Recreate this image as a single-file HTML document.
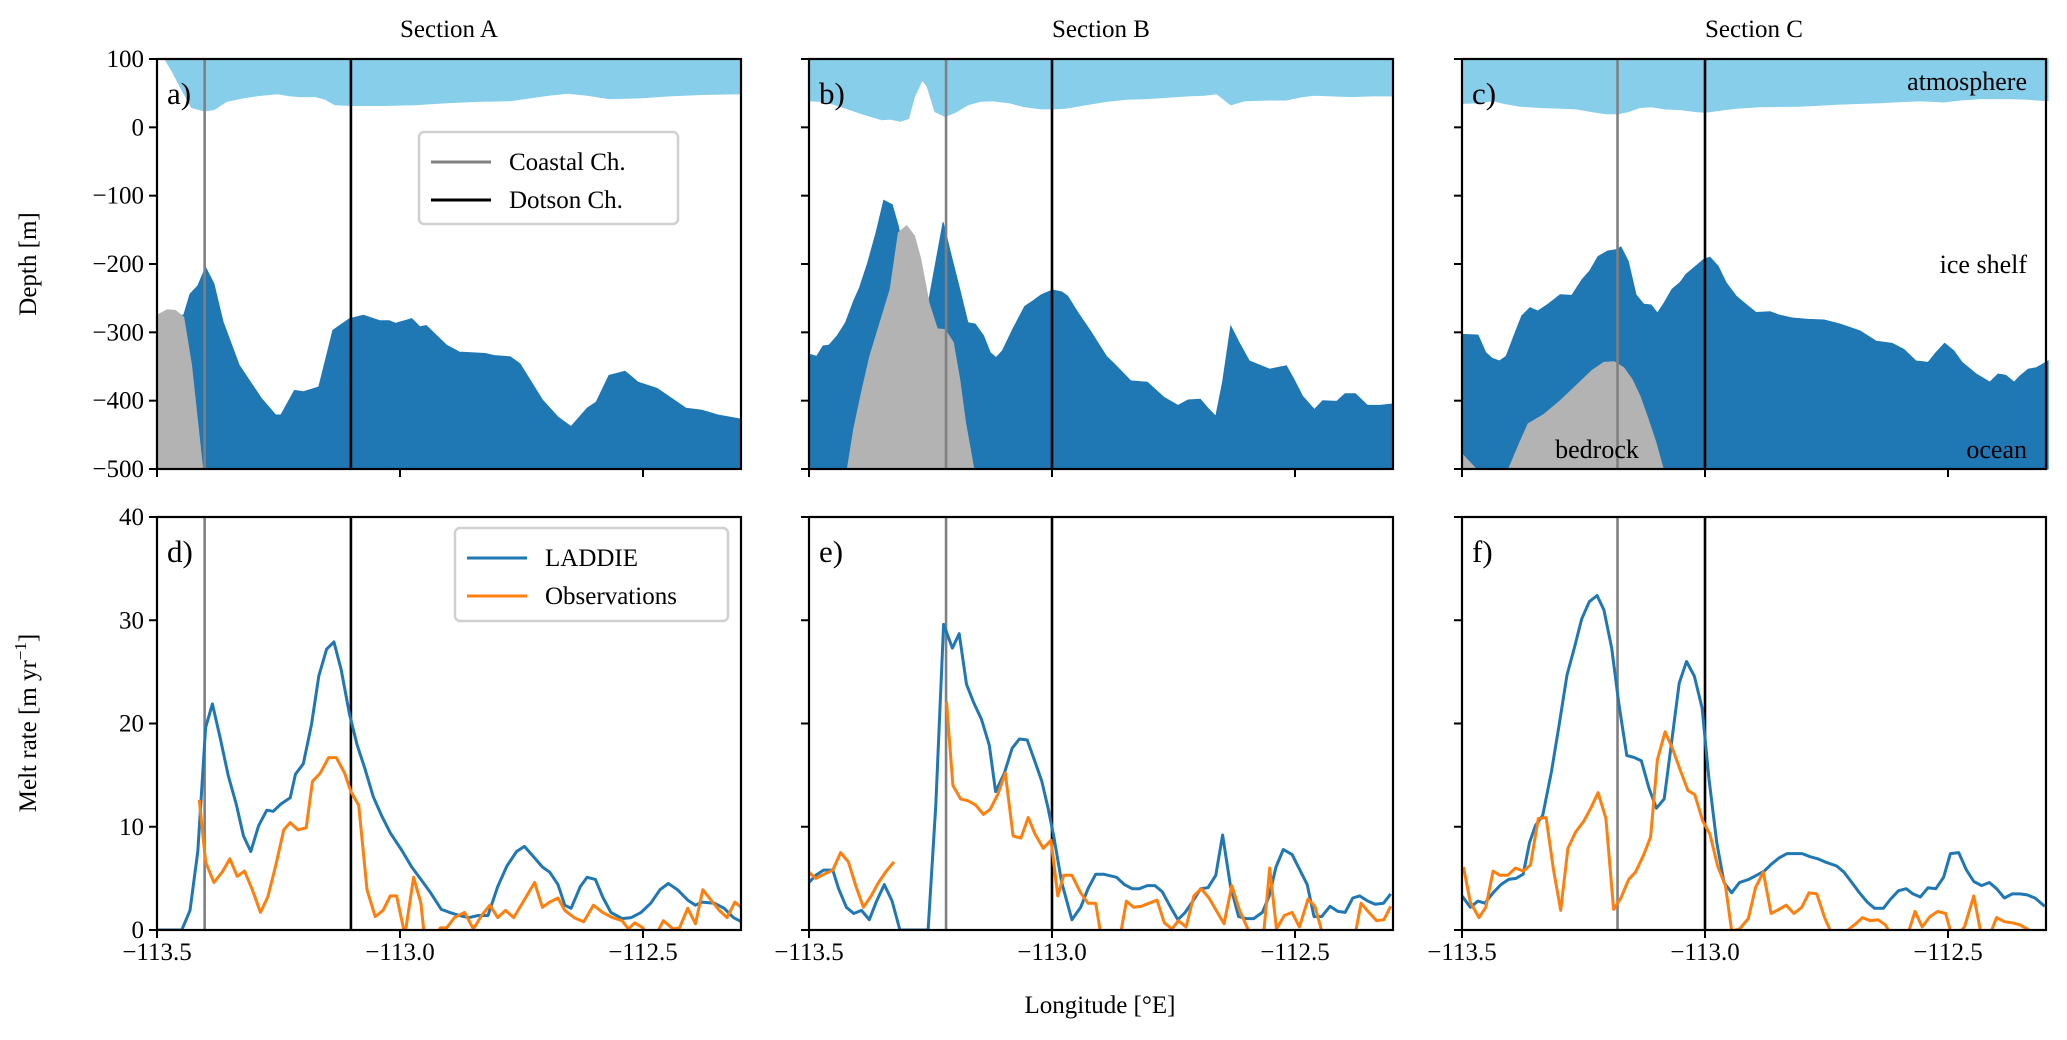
<!DOCTYPE html>
<html><head><meta charset="utf-8"><title>Ice shelf sections and melt rates</title>
<style>
html,body{margin:0;padding:0;background:#fff;}
svg{display:block;font-family:"Liberation Serif",serif;}
text{fill:#000;}
</style></head>
<body>
<svg id="fig" width="2067" height="1040" viewBox="0 0 2067 1040" xmlns="http://www.w3.org/2000/svg">
<defs>
<clipPath id="clipA"><rect x="157" y="517" width="584" height="413"/></clipPath>
<clipPath id="clipB"><rect x="809" y="517" width="584" height="413"/></clipPath>
<clipPath id="clipC"><rect x="1462" y="517" width="584" height="413"/></clipPath>
</defs>
</svg>
<script>
// Longitudes are stored as offsets (deg) from LON0 = -113.5 °E
const LON0 = -113.5;
const xTicks = [-113.5, -113.0, -112.5];
const xTickLabels = ["\u2212113.5", "\u2212113.0", "\u2212112.5"];
const depthTicks = [100, 0, -100, -200, -300, -400, -500];
const depthTickLabels = ["100", "0", "\u2212100", "\u2212200", "\u2212300", "\u2212400", "\u2212500"];
const meltTicks = [0, 10, 20, 30, 40];
const meltTickLabels = ["0", "10", "20", "30", "40"];
const sectionTitles = ["Section A", "Section B", "Section C"];
const coastalLon = [-113.402, -113.218, -113.18];
const dotsonLon = [-113.101, -113.0, -113.0];

// Section A
const aSurfLon = [.016,.031,.051,.071,.097,.117,.143,.176,.215,.248,.274,.294,.327,.346,.366,.399,.465,.530,.596,.661,.727,.766,.806,.845,.885,.930,.990,1.055,1.121,1.200];
const aSurfDepth = [100,82,55,29,24,26,38,43,47,49,46,45,45,41,33,32,32,33,36,38,39,43,47,50,47,42,43,46,48,49];
const aIceLon = [0,.055,.068,.084,.100,.117,.136,.169,.196,.215,.244,.255,.283,.301,.333,.362,.396,.425,.458,.478,.491,.524,.541,.554,.596,.622,.675,.694,.727,.747,.793,.825,.852,.885,.904,.930,.963,.990,1.029,1.088,1.121,1.154,1.200];
const aIceDepth = [-275,-275,-244,-232,-205,-229,-285,-348,-377,-397,-421,-421,-385,-387,-380,-297,-280,-275,-283,-283,-287,-280,-292,-290,-319,-329,-331,-334,-336,-346,-399,-424,-438,-411,-402,-363,-357,-373,-382,-411,-414,-421,-427];
const aBedLon = [0,.021,.038,.055,.071,.094,0];
const aBedDepth = [-275,-267,-268,-278,-348,-500,-500];
// Section B
const bSurfLon = [0,.024,.050,.075,.108,.150,.167,.188,.205,.217,.233,.243,.259,.280,.301,.327,.352,.377,.411,.444,.478,.503,.528,.570,.612,.654,.696,.738,.780,.814,.839,.868,.898,.948,.982,1.015,1.040,1.074,1.116,1.158,1.200];
const bSurfDepth = [39,38,34,28,20,11,12,9,13,45,69,60,23,16,22,33,38,39,36,30,27,27,28,33,38,41,42,44,46,47,49,33,39,40,40,45,47,46,45,46,46];
const bIceLon = [0,.016,.029,.041,.058,.075,.092,.104,.121,.138,.154,.171,.184,.201,.226,.247,.276,.293,.310,.327,.342,.359,.373,.385,.398,.419,.444,.461,.478,.501,.520,.532,.553,.579,.612,.629,.662,.696,.730,.759,.780,.805,.822,.837,.851,.868,.885,.906,.948,.982,.998,1.015,1.040,1.057,1.086,1.103,1.124,1.149,1.175,1.200];
const bIceDepth = [-332,-335,-320,-319,-305,-286,-254,-235,-198,-154,-107,-113,-145,-213,-257,-252,-139,-189,-237,-286,-288,-305,-330,-337,-327,-296,-262,-254,-245,-238,-241,-247,-271,-298,-335,-347,-371,-373,-395,-407,-399,-398,-412,-423,-373,-291,-315,-342,-354,-349,-369,-393,-413,-400,-401,-390,-390,-407,-407,-405];
const bBedLon = [.079,.092,.108,.125,.146,.167,.184,.201,.217,.230,.247,.264,.280,.297,.310,.322,.339];
const bBedDepth = [-500,-442,-388,-335,-286,-237,-154,-144,-159,-193,-257,-295,-296,-315,-369,-432,-500];
// Section C
const cSurfLon = [0,.037,.062,.086,.119,.160,.202,.235,.267,.296,.321,.342,.366,.391,.416,.449,.481,.502,.531,.564,.613,.695,.778,.860,.942,.992,1.025,1.066,1.123,1.165,1.206];
const cSurfDepth = [35,36,39,35,31,29,28,27,23,20,20,23,29,30,27,26,23,22,25,28,30,31,34,36,39,37,40,42,42,41,39];
const cIceLon = [0,.033,.049,.062,.077,.091,.107,.123,.140,.156,.177,.202,.226,.247,.263,.280,.300,.317,.327,.342,.358,.374,.389,.402,.416,.432,.449,.461,.481,.498,.510,.527,.543,.564,.584,.605,.634,.654,.679,.712,.745,.778,.819,.852,.885,.909,.934,.959,.975,.993,1.012,1.029,1.058,1.086,1.103,1.119,1.136,1.148,1.165,1.181,1.206];
const cIceDepth = [-303,-304,-330,-338,-342,-335,-305,-276,-264,-269,-259,-245,-246,-223,-210,-189,-181,-179,-175,-196,-245,-259,-260,-272,-257,-237,-227,-215,-203,-193,-190,-203,-227,-247,-259,-271,-270,-275,-279,-281,-282,-288,-298,-313,-316,-325,-342,-344,-330,-316,-327,-344,-361,-373,-361,-363,-373,-364,-354,-352,-342];
const cBed1Lon = [0,0,.029];
const cBed1Depth = [-500,-478,-500];
const cBedLon = [.096,.119,.136,.169,.202,.235,.267,.292,.313,.333,.350,.366,.383,.399,.414];
const cBedDepth = [-500,-461,-434,-420,-400,-378,-356,-344,-343,-352,-369,-393,-427,-461,-500];

// Melt rates
const dLadLon = [0,.051,.068,.084,.100,.114,.130,.147,.163,.178,.193,.209,.226,.239,.255,.274,.285,.301,.318,.333,.349,.364,.379,.396,.412,.428,.445,.462,.480,.504,.524,.543,.563,.585,.602,.622,.642,.661,.681,.701,.720,.740,.756,.773,.793,.808,.825,.839,.852,.871,.885,.902,.917,.934,.957,.976,.996,1.016,1.035,1.052,1.071,1.092,1.108,1.121,1.147,1.167,1.186,1.202];
const dLadMelt = [0,0,1.9,7.6,19.6,21.9,18.6,14.9,12.2,9.1,7.6,10.1,11.6,11.5,12.2,12.8,15.1,16.1,19.9,24.6,27.2,27.9,25.2,20.9,17.9,15.6,12.9,11.1,9.4,7.7,6.1,4.9,3.6,2.0,1.7,1.4,1.2,1.4,1.4,4.2,6.2,7.6,8.1,7.2,6.1,5.6,4.4,2.4,2.1,4.2,5.1,4.9,3.2,1.7,1.1,1.2,1.7,2.6,3.9,4.5,3.9,2.9,2.4,2.7,2.6,2.1,1.2,0.8];
const dObsLon = [.087,.100,.117,.134,.150,.165,.180,.196,.213,.228,.244,.261,.274,.290,.307,.320,.336,.353,.369,.386,.399,.415,.432,.449,.465,.480,.493,.510,.528,.543,.550,.567,.583,.596,.612,.633,.651,.668,.685,.701,.717,.734,.753,.777,.793,.808,.825,.839,.858,.878,.898,.917,.937,.957,.970,.983,1.000,1.016,1.042,1.062,1.075,1.092,1.108,1.123,1.140,1.157,1.173,1.189,1.202];
const dObsMelt = [12.6,6.6,4.6,5.6,6.9,5.2,5.7,3.9,1.7,3.2,6.2,9.7,10.4,9.7,9.9,14.4,15.2,16.7,16.7,15.2,13.4,12.1,3.9,1.3,1.9,3.3,3.3,-0.5,5.1,2.6,-0.5,-1.4,0.2,0.2,1.2,1.7,0.1,1.4,2.4,1.2,1.9,1.2,2.7,4.6,2.2,2.7,3.1,1.9,1.2,0.8,2.4,1.7,1.2,0.9,0.1,0.7,0.2,-1.4,0.9,0.1,0.2,2.1,0.6,3.9,2.9,1.9,1.2,2.7,2.2];
const eLadLon = [0,.014,.030,.049,.061,.077,.092,.108,.124,.139,.155,.171,.187,.245,.261,.277,.295,.309,.324,.339,.355,.371,.384,.402,.418,.433,.449,.465,.479,.492,.504,.520,.541,.559,.574,.590,.606,.633,.649,.665,.680,.696,.712,.727,.743,.759,.774,.790,.806,.821,.837,.851,.867,.884,.900,.915,.933,.947,.961,.976,.994,1.009,1.025,1.039,1.055,1.072,1.088,1.103,1.119,1.133,1.150,1.165,1.182,1.197];
const eLadMelt = [4.6,5.3,5.8,5.8,4.0,2.2,1.6,1.9,1.0,2.8,4.4,2.8,0,0,12.1,29.6,27.3,28.7,23.8,22.0,20.4,17.9,13.4,15.2,17.6,18.5,18.4,16.3,14.4,11.8,9.0,4.6,1.0,2.2,4.0,5.4,5.4,5.1,4.4,4.0,4.0,4.3,4.3,3.7,2.3,1.0,1.7,2.8,4.0,4.1,5.3,9.2,4.3,1.3,1.1,1.1,1.7,3.3,6.1,7.8,7.3,5.9,4.4,1.3,1.3,2.3,1.8,1.7,3.1,3.3,2.8,2.5,2.6,3.5];
const eObsLon = [0,.014,.031,.049,.065,.081,.096,.112,.128,.143,.159,.175,.23,.283,.296,.312,.328,.343,.359,.373,.389,.404,.420,.436,.451,.465,.482,.498,.512,.524,.541,.559,.574,.590,.602,.639,.653,.668,.684,.700,.716,.731,.747,.760,.776,.792,.807,.823,.839,.854,.870,.886,.901,.915,.935,.948,.962,.978,.994,1.009,1.027,1.041,1.058,1.123,1.136,1.152,1.168,1.183,1.197];
const eObsMelt = [5.6,5.0,5.4,5.8,7.5,6.6,4.3,2.2,3.3,4.6,5.7,6.6,null,22.1,14.0,12.7,12.5,12.1,11.2,11.7,13.2,15.2,9.1,8.9,10.9,9.3,7.9,8.7,3.3,5.3,5.3,3.6,2.6,2.6,-0.9,-0.9,2.8,2.2,2.3,2.6,2.9,0.7,0.1,0.9,0.3,3.3,4.0,3.1,1.8,0.6,4.3,1.9,0.3,-0.9,-0.6,6.0,0.1,1.4,1.7,0.3,3.0,2.3,-0.6,-0.6,2.6,1.7,0.9,1.0,2.3];
const fLadLon = [0,.017,.033,.047,.064,.080,.096,.111,.126,.139,.151,.166,.184,.200,.216,.231,.246,.262,.278,.292,.308,.323,.339,.355,.369,.385,.400,.416,.432,.447,.462,.478,.494,.508,.524,.539,.555,.571,.590,.606,.622,.637,.653,.669,.684,.700,.716,.732,.747,.771,.786,.802,.818,.834,.849,.867,.882,.898,.914,.928,.943,.959,.975,.991,1.005,1.022,1.038,1.053,1.069,1.085,1.100,1.116,1.132,1.148,1.163,1.179,1.199];
const fLadMelt = [3.3,2.2,2.8,2.6,3.6,4.4,4.9,5.0,5.4,8.5,10.1,11.1,15.3,19.9,24.7,27.3,30.1,31.8,32.4,31.0,27.3,21.8,16.9,16.7,16.4,13.7,11.8,12.7,18.5,23.9,26.0,24.6,21.5,14.7,8.5,4.6,3.6,4.6,4.9,5.3,5.7,6.4,7.0,7.4,7.4,7.4,7.1,6.9,6.6,6.2,5.6,4.6,3.6,2.7,2.1,2.1,3.0,3.8,4.0,3.5,3.2,4.1,4.0,5.1,7.4,7.5,5.8,4.7,4.3,4.6,4.0,3.1,3.5,3.5,3.4,3.1,2.3];
const fObsLon = [.003,.017,.035,.049,.064,.078,.094,.110,.126,.141,.157,.173,.188,.203,.218,.234,.250,.265,.280,.296,.312,.327,.343,.357,.373,.388,.402,.418,.433,.449,.465,.479,.495,.510,.526,.542,.555,.571,.589,.604,.620,.636,.652,.667,.683,.699,.714,.730,.746,.763,.794,.810,.824,.840,.856,.871,.889,.916,.932,.947,.963,.979,.995,1.010,1.034,1.053,1.069,1.085,1.100,1.116,1.132,1.148,1.163,1.179,1.199];
const fObsMelt = [6.1,2.7,1.2,2.2,5.7,5.3,5.3,6.0,5.7,6.3,10.8,10.9,5.9,1.9,7.9,9.5,10.5,11.8,13.3,10.8,2.0,3.1,4.9,5.6,7.2,9.0,16.5,19.2,17.6,15.5,13.5,13.1,10.6,9.3,6.2,4.3,-0.1,0.1,1.1,4.1,5.6,1.6,2.0,2.4,1.6,2.2,3.6,3.5,1.2,-0.6,0,0.6,1.2,0.9,1.0,0.5,-0.9,-0.6,1.8,0.3,1.3,1.8,1.6,-0.9,0.3,3.3,-0.6,-0.6,1.2,0.8,0.7,0.5,0.1,-0.4,-0.6];

const NS = "http://www.w3.org/2000/svg";
const svg = document.getElementById("fig");
const LEFTS = [157, 809, 1462], W = 584, PXDEG = 486;
const TOP1 = 59, BOT1 = 469, TOP2 = 517, BOT2 = 930;
const FS = 25;
function xs(p, lon) { return LEFTS[p] + (lon - LON0) * PXDEG; }
function xo(p, off) { return xs(p, LON0 + off); }
function yd(d) { return TOP1 + (100 - d) * (BOT1 - TOP1) / 600; }
function ym(m) { return BOT2 - m * (BOT2 - TOP2) / 40; }
function mk(tag, attrs, parent) {
  const e = document.createElementNS(NS, tag);
  for (const k in attrs) e.setAttribute(k, attrs[k]);
  (parent || svg).appendChild(e);
  return e;
}
function txt(x, y, s, size, anchor, parent) {
  const t = mk("text", {x: x, y: y, "font-size": size, "text-anchor": anchor || "start"}, parent);
  t.textContent = s;
  return t;
}

const sectionData = [
  {surfL: aSurfLon, surfD: aSurfDepth, iceL: aIceLon, iceD: aIceDepth, beds: [[aBedLon, aBedDepth]], ladL: dLadLon, ladM: dLadMelt, obsL: dObsLon, obsM: dObsMelt},
  {surfL: bSurfLon, surfD: bSurfDepth, iceL: bIceLon, iceD: bIceDepth, beds: [[bBedLon, bBedDepth]], ladL: eLadLon, ladM: eLadMelt, obsL: eObsLon, obsM: eObsMelt},
  {surfL: cSurfLon, surfD: cSurfDepth, iceL: cIceLon, iceD: cIceDepth, beds: [[cBed1Lon, cBed1Depth], [cBedLon, cBedDepth]], ladL: fLadLon, ladM: fLadMelt, obsL: fObsLon, obsM: fObsMelt}
];
const topLetters = ["a)", "b)", "c)"], botLetters = ["d)", "e)", "f)"];
const clips = ["clipA", "clipB", "clipC"];

for (let p = 0; p < 3; p++) {
  const S = sectionData[p], L = LEFTS[p];
  const gTop = mk("g", {});
  
  
  let pts = S.surfL.map((o, i) => xo(p, o).toFixed(1) + "," + yd(S.surfD[i]).toFixed(1));
  pts.push(xo(p, S.surfL[S.surfL.length - 1]).toFixed(1) + "," + TOP1);
  pts.push(xo(p, S.surfL[0]).toFixed(1) + "," + TOP1);
  const atm = mk("polygon", {points: pts.join(" "), fill: "#87ceeb", stroke: "#87ceeb", "stroke-width": 1}, gTop);
  
  
  pts = S.iceL.map((o, i) => xo(p, o).toFixed(1) + "," + yd(S.iceD[i]).toFixed(1));
  pts.push(xo(p, S.iceL[S.iceL.length - 1]).toFixed(1) + "," + BOT1);
  pts.push(xo(p, S.iceL[0]).toFixed(1) + "," + BOT1);
  const oc = mk("polygon", {points: pts.join(" "), fill: "#1f77b4", stroke: "#1f77b4", "stroke-width": 1}, gTop);
  
  
  S.beds.forEach(b => {
    const bp = b[0].map((o, i) => xo(p, o).toFixed(1) + "," + yd(b[1][i]).toFixed(1));
    const bed = mk("polygon", {points: bp.join(" "), fill: "#b3b3b3", stroke: "#b3b3b3", "stroke-width": 1}, gTop);
    
    
  });
  [[TOP1, BOT1], [TOP2, BOT2]].forEach(yy => {
    const c1 = mk("line", {x1: xs(p, coastalLon[p]), x2: xs(p, coastalLon[p]), y1: yy[0], y2: yy[1], stroke: "#808080", "stroke-width": 2.6});
    
    
    const c2 = mk("line", {x1: xs(p, dotsonLon[p]), x2: xs(p, dotsonLon[p]), y1: yy[0], y2: yy[1], stroke: "#000", "stroke-width": 2.6});
    
    
  });
  const gl = mk("g", {"clip-path": "url(#" + clips[p] + ")"});
  
  
  function linePath(Ls, Ms) {
    let d = "", pen = false;
    Ls.forEach((o, i) => {
      if (Ms[i] === null) { pen = false; return; }
      d += (pen ? "L" : "M") + xo(p, o).toFixed(1) + "," + ym(Ms[i]).toFixed(1);
      pen = true;
    });
    return d;
  }
  const lad = mk("path", {d: linePath(S.ladL, S.ladM), fill: "none", stroke: "#1f77b4", "stroke-width": 3, "stroke-linejoin": "round"}, gl);
  
  
  const obs = mk("path", {d: linePath(S.obsL, S.obsM), fill: "none", stroke: "#ff7f0e", "stroke-width": 3, "stroke-linejoin": "round"}, gl);
  
  

  [[TOP1, BOT1], [TOP2, BOT2]].forEach(yy => {
    const fr = mk("rect", {x: L, y: yy[0], width: W, height: yy[1] - yy[0], fill: "none", stroke: "#000", "stroke-width": 2.2});
    
    
  });
  xTicks.forEach((t, i) => {
    const x = xs(p, t);
    [BOT1, BOT2].forEach(yb => {
      const tk = mk("line", {x1: x, x2: x, y1: yb, y2: yb + 8, stroke: "#000", "stroke-width": 2});
      
      
    });
    const lb = txt(x, 960, xTickLabels[i], FS, "middle");
    
    
  });
  depthTicks.forEach((t, i) => {
    const y = yd(t);
    const tk = mk("line", {x1: L - 8, x2: L, y1: y, y2: y, stroke: "#000", "stroke-width": 2});
    
    
    if (p === 0) {
      const lb = txt(L - 13, y + 8, depthTickLabels[i], FS, "end");
      
      
    }
  });
  meltTicks.forEach((t, i) => {
    const y = ym(t);
    const tk = mk("line", {x1: L - 8, x2: L, y1: y, y2: y, stroke: "#000", "stroke-width": 2});
    
    
    if (p === 0) {
      const lb = txt(L - 13, y + 8, meltTickLabels[i], FS, "end");
      
      
    }
  });
  const ttl = txt(L + W / 2, 37, sectionTitles[p], FS, "middle");
  
  
  const l1 = txt(L + 10, 104, topLetters[p], 31);
  
  
  const l2 = txt(L + 10, 562, botLetters[p], 31);
  
  
}

[["atmosphere", 2027, 90, "end"], ["ice shelf", 2027, 273, "end"], ["bedrock", 1597, 458, "middle"], ["ocean", 2027, 458, "end"]].forEach(a => {
  const t = txt(a[1], a[2], a[0], 26, a[3]);
  
  
});

const yl1 = txt(0, 0, "Depth [m]", FS, "middle");
yl1.setAttribute("transform", "translate(36,264) rotate(-90)");


const yl2 = mk("text", {"font-size": FS, "text-anchor": "middle", transform: "translate(36,723) rotate(-90)"});
yl2.innerHTML = 'Melt rate [m yr<tspan dy="-10" font-size="17">\u22121</tspan><tspan dy="10">]</tspan>';


const xl = txt(1100, 1013, "Longitude [\u00b0E]", FS, "middle");



function legend(x, y, w, h, items, name) {
  const g = mk("g", {});
  
  
  mk("rect", {x: x, y: y, width: w, height: h, rx: 5, fill: "#fff", "fill-opacity": 0.85, stroke: "#d0d0d0", "stroke-width": 2.5}, g);
  items.forEach((it, i) => {
    const yy = y + 30 + i * 38;
    const ln = mk("line", {x1: x + 12, x2: x + 72, y1: yy, y2: yy, stroke: it[1], "stroke-width": 3}, g);
    
    
    const t = txt(x + 90, yy + 8, it[0], FS, "start", g);
    
    
  });
}
legend(419, 132, 259, 92, [["Coastal Ch.", "#808080"], ["Dotson Ch.", "#000"]], "channel-legend");
legend(455, 528, 273, 93, [["LADDIE", "#1f77b4"], ["Observations", "#ff7f0e"]], "melt-legend");
</script>
</body></html>
